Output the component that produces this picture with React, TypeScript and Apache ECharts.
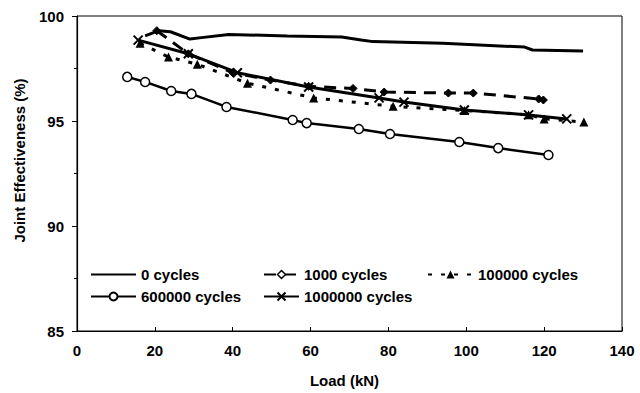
import React, { useEffect, useRef } from "react";
import * as echarts from "echarts";

const xTicks = [0, 20, 40, 60, 80, 100, 120, 140];
const yTicks = [85, 90, 95, 100];

const seriesNames = ["0 cycles", "1000 cycles", "100000 cycles", "600000 cycles", "1000000 cycles"];

const load0 = [17.5, 21, 24, 29, 32, 39, 54, 68, 73, 76, 94, 115, 117, 130];
const eff0 = [99.05, 99.3, 99.25, 98.9, 98.97, 99.12, 99.05, 99.0, 98.86, 98.78, 98.7, 98.52, 98.38, 98.33];

const load1k = [20.5, 28.6, 40, 49.7, 59.5, 70.9, 78.9, 95.4, 101.8, 118.6, 119.8];
const eff1k = [99.3, 98.2, 97.3, 96.95, 96.65, 96.55, 96.38, 96.33, 96.33, 96.05, 96.0];

const load100k = [16.2, 23.5, 30.9, 43.8, 60.8, 81.2, 99.5, 116, 120, 130.2];
const eff100k = [98.7, 98.05, 97.7, 96.8, 96.1, 95.7, 95.5, 95.3, 95.1, 94.95];

const load600k = [12.9, 17.5, 24.2, 29.4, 38.4, 55.4, 59.0, 72.4, 80.4, 98.2, 108.2, 121.1];
const eff600k = [97.1, 96.86, 96.43, 96.29, 95.67, 95.05, 94.9, 94.62, 94.38, 94.0, 93.71, 93.38];

const load1m = [15.7, 28.6, 41.2, 59.5, 77.6, 84, 99.5, 116, 125.8];
const eff1m = [98.85, 98.2, 97.3, 96.62, 96.1, 95.9, 95.52, 95.29, 95.1];

const pair = (xs: number[], ys: number[]) => xs.map((x, i) => [x, ys[i]]);

const FONT = 'Arial, "Liberation Sans", sans-serif';
const crossPath = "path://M0 0L10 10M10 0L0 10";

export default function App() {
  const ref = useRef<HTMLDivElement>(null);
  useEffect(() => {
    if (!ref.current) return;
    const chart = echarts.init(ref.current, null, { renderer: "svg" });
    const textStyle = { fontFamily: FONT, fontWeight: "bold" as const, fontSize: 15, color: "#000" };
    const legendBase = {
      orient: "horizontal" as const,
      padding: 0,
      itemHeight: 10,
      textStyle: { ...textStyle, padding: [0, 0, 0, 0] },
      itemGap: 0,
      selectedMode: false,
    };
    chart.setOption({
      animation: false,
      backgroundColor: "#fff",
      grid: { left: 77, right: 18, top: 16, bottom: 62, show: true, borderColor: "#000", borderWidth: 1 },
      xAxis: {
        type: "value",
        min: xTicks[0],
        max: xTicks[xTicks.length - 1],
        interval: 20,
        name: "Load (kN)",
        nameLocation: "middle",
        nameGap: 42,
        nameTextStyle: { ...textStyle, padding: [0, 10, 0, 0] },
        axisLine: { lineStyle: { color: "#000", width: 1.2 } },
        axisTick: { inside: true, length: 4, lineStyle: { color: "#000" } },
        axisLabel: { ...textStyle, margin: 12 },
        splitLine: { show: false },
      },
      yAxis: {
        type: "value",
        min: yTicks[0],
        max: yTicks[yTicks.length - 1],
        interval: 5,
        name: "Joint Effectiveness (%)",
        nameLocation: "middle",
        nameGap: 50,
        nameTextStyle: { ...textStyle, padding: [0, 0, 0, 26] },
        axisLine: { show: true, lineStyle: { color: "#000", width: 1.2 } },
        axisTick: { show: true, length: 5, lineStyle: { color: "#000" } },
        minorTick: { show: true, splitNumber: 2, length: 3, lineStyle: { color: "#000" } },
        axisLabel: { ...textStyle, margin: 13 },
        splitLine: { show: false },
      },
      legend: [
        {
          ...legendBase, left: 90, top: 267, itemWidth: 45,
          data: [{ name: seriesNames[0], itemStyle: { opacity: 0 } }],
        },
        {
          ...legendBase, left: 263, top: 267, itemWidth: 35,
          data: [{ name: seriesNames[1], itemStyle: { color: "#fff", borderColor: "#000", borderWidth: 1.5 } }],
        },
        { ...legendBase, left: 427, top: 267, itemWidth: 45, data: [seriesNames[2]] },
        { ...legendBase, left: 90, top: 289, itemWidth: 45, data: [seriesNames[3]] },
        { ...legendBase, left: 263, top: 289, itemWidth: 35, data: [seriesNames[4]] },
      ],
      series: [
        {
          name: seriesNames[0],
          type: "line",
          data: pair(load0, eff0),
          symbol: "none",
          lineStyle: { color: "#000", width: 3 },
          itemStyle: { color: "#000" },
          z: 2,
        },
        {
          name: seriesNames[1],
          type: "line",
          data: pair(load1k, eff1k),
          symbol: "diamond",
          symbolSize: 8,
          lineStyle: { color: "#000", width: 3, type: [12, 8] },
          itemStyle: { color: "#000", borderColor: "#000", borderWidth: 1 },
          z: 3,
        },
        {
          name: seriesNames[2],
          type: "line",
          data: pair(load100k, eff100k),
          symbol: "triangle",
          symbolSize: 9,
          lineStyle: { color: "#000", width: 3, type: [4, 9] },
          itemStyle: { color: "#000" },
          z: 3,
        },
        {
          name: seriesNames[3],
          type: "line",
          data: pair(load600k, eff600k),
          symbol: "circle",
          symbolSize: 9,
          showAllSymbol: true,
          lineStyle: { color: "#000", width: 2.5 },
          itemStyle: { color: "#fff", borderColor: "#000", borderWidth: 1.5 },
          z: 3,
        },
        {
          name: seriesNames[4],
          type: "line",
          data: pair(load1m, eff1m),
          symbol: crossPath,
          symbolSize: 9,
          lineStyle: { color: "#000", width: 3 },
          itemStyle: { color: "#000", borderColor: "#000", borderWidth: 2 },
          z: 3,
        },
      ],
    });
    return () => chart.dispose();
  }, []);
  return (
    <div
      ref={ref}
      style={{ position: "fixed", left: 0, top: 0, width: 640, height: 393, background: "#fff" }}
    />
  );
}
